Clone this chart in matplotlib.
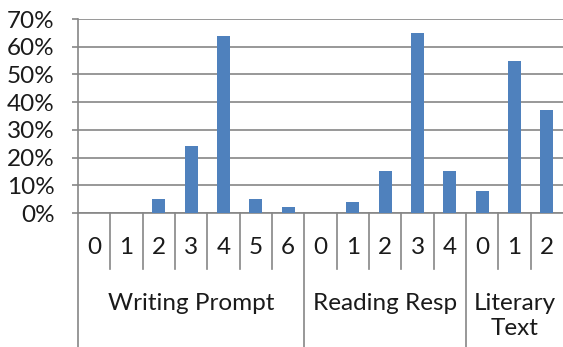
import matplotlib
matplotlib.use("Agg")
import matplotlib.pyplot as plt
import matplotlib.transforms as mtransforms
from matplotlib.ticker import PercentFormatter

# score distribution per task, as share of students
groups = ["Writing Prompt", "Reading Resp", "Literary\nText"]
scores = [["0", "1", "2", "3", "4", "5", "6"],
          ["0", "1", "2", "3", "4"],
          ["0", "1", "2"]]
shares = [[0, 0, 5, 24, 64, 5, 2],
          [0, 4, 15, 65, 15],
          [8, 55, 37]]

plt.rcParams['font.family'] = ['Lato', 'DejaVu Sans']
bar_col = '#4F81BD'
line_col = '#868686'
fs = 17.5

W, H = 563, 347
fig = plt.figure(figsize=(W / 100, H / 100), dpi=100)
ax = fig.add_axes([78 / W, 1 - 213 / H, (W - 78) / W, (213 - 19) / H])

labels = [s for grp in scores for s in grp]
values = [v for grp in shares for v in grp]
x = list(range(len(values)))
ax.bar(x, values, width=0.4, color=bar_col, zorder=3)

ax.set_xlim(-0.5, len(values) - 0.5)
ax.set_ylim(0, 70)
ax.set_yticks(range(0, 71, 10))
ax.yaxis.set_major_formatter(PercentFormatter(decimals=0))
ax.grid(axis='y', color=line_col, linewidth=1.2)
ax.tick_params(axis='y', length=4, width=1.2, color=line_col, pad=13,
               labelsize=fs, labelcolor='#1a1a1a')
ax.set_xticks([])
for side in ['top', 'right']:
    ax.spines[side].set_visible(False)
for side in ['left', 'bottom']:
    ax.spines[side].set_color(line_col)
    ax.spines[side].set_linewidth(1.2)

# two-level category axis drawn below the plot
tr = mtransforms.blended_transform_factory(ax.transData, fig.transFigure)
fy = lambda py: 1 - py / H

for i, lab in enumerate(labels):
    fig.text(i, fy(248), lab, transform=tr, ha='center', va='center',
             fontsize=fs, color='#1a1a1a')

start = 0
bounds = [-0.5]
for grp, name in zip(scores, groups):
    end = start + len(grp)
    for k in range(start + 1, end):
        fig.add_artist(plt.Line2D([k - 0.5, k - 0.5], [fy(213), fy(269)],
                                  transform=tr, color=line_col, lw=1.2))
    bounds.append(end - 0.5)
    ty = fy(316) if '\n' in name else fy(304)
    fig.text((start + end - 1) / 2, ty, name, transform=tr, ha='center',
             va='center', fontsize=fs, color='#1a1a1a', linespacing=1.25)
    start = end

for b in bounds[:-1]:
    fig.add_artist(plt.Line2D([b, b], [fy(213), 0], transform=tr,
                              color=line_col, lw=1.2))

fig.savefig('out.png', dpi=100)
